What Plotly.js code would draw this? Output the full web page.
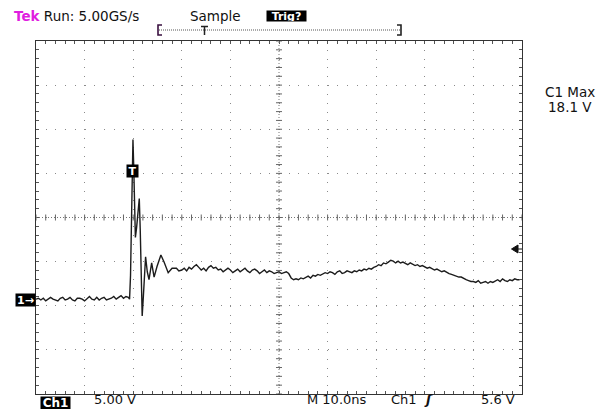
<!DOCTYPE html>
<html><head><meta charset="utf-8">
<script src="https://cdn.plot.ly/plotly-3.0.1.min.js"></script>
<style>body{margin:0;background:#fff}#chart{width:614px;height:409px}</style>
</head><body><div id="chart"></div>
<script>
// ---- data (time in ns, amplitude in volts) ----
const baselineTime = [0,0.5,1,1.5,2,2.5,3,3.5,4,4.5,5,5.5,6,6.5,7,7.5,8,8.5,9,9.5,10,10.5,11,11.5,12,12.5,13,13.5,14,14.5,15,15.5,16,16.5,17,17.5,18,18.5,19];
const baselineVolts = [0.0,0.1,-0.1,0.1,-0.2,0.0,0.2,0.0,-0.1,-0.2,0.1,0.2,-0.1,0.0,0.2,-0.1,-0.2,0.1,0.1,0.0,-0.2,0.1,0.3,0.0,-0.1,0.2,-0.1,0.1,0.2,-0.1,0.0,0.1,0.3,0.0,0.2,0.4,0.1,0.3,0.2];
const pulseTime = [19.25,19.45,19.6,19.8,19.95,20.1,20.3,20.45,20.7,21.0,21.25,21.45,21.65,21.85,22.1,22.35,22.55,22.9,23.25,23.8,24.3,24.9,25.7,26.35,27.2,28.0,28.9,29.4];
const pulseVolts = [0.0,2.7,9.0,14.6,18.1,15.2,10.1,7.0,8.1,10.3,11.4,7.8,1.6,-1.9,0.4,3.8,4.8,3.1,2.2,4.1,2.5,3.7,5.0,4.2,3.0,3.5,3.5,3.2];
const tailTime = [30,30.5,31,31.5,32,32.5,33,33.5,34,34.5,35,35.5,36,36.5,37,37.5,38,38.5,39,39.5,
 40,40.5,41,41.5,42,42.5,43,43.5,44,44.5,45,45.5,46,46.5,47,47.5,48,48.5,49,49.5,
 50,50.5,51,51.5,52,52.5,53,53.5,54,54.5,55,55.5,56,56.5,57,57.5,58,58.5,59,59.5,
 60,60.5,61,61.5,62,62.5,63,63.5,64,64.5,65,65.5,66,66.5,67,67.5,68,68.5,69,69.5,
 70,70.5,71,71.5,72,72.5,73,73.5,74,74.5,75,75.5,76,76.5,77,77.5,78,78.5,79,79.5,
 80,80.5,81,81.5,82,82.5,83,83.5,84,84.5,85,85.5,86,86.5,87,87.5,88,88.5,89,89.5,
 90,90.5,91,91.5,92,92.5,93,93.5,94,94.5,95,95.5,96,96.5,97,97.5,98,98.5,99,99.5];
const tailVolts = [3.3,3.5,3.2,3.6,3.4,3.7,3.9,3.6,3.3,3.5,
 3.2,3.6,3.8,3.5,3.6,3.3,3.4,3.1,3.3,3.5,
 3.3,3.0,3.2,3.4,3.1,3.3,3.5,3.2,3.0,3.3,
 3.4,3.2,2.9,3.1,3.3,3.0,3.2,3.1,2.9,3.0,
 3.1,2.9,3.0,3.1,2.9,2.4,2.2,2.3,2.2,2.4,
 2.3,2.5,2.6,2.4,2.7,2.6,2.8,2.7,2.9,3.0,
 2.9,3.1,3.0,2.8,3.1,3.2,2.9,3.0,3.2,3.1,
 3.0,3.2,3.1,3.3,3.2,3.4,3.3,3.5,3.4,3.6,
 3.7,3.9,3.8,4.1,4.0,4.2,4.4,4.3,4.1,4.3,
 4.1,4.2,4.0,3.9,4.1,3.9,3.8,3.9,3.7,3.8,
 3.6,3.5,3.6,3.4,3.3,3.4,3.2,3.1,3.2,3.0,
 2.9,2.8,2.7,2.6,2.5,2.5,2.3,2.2,2.1,2.0,
 2.0,1.9,2.1,1.8,1.9,2.0,1.8,2.0,1.9,2.1,
 2.2,2.0,2.3,2.1,2.0,2.2,2.1,2.3,2.2,2.2];

// scope settings
const voltsPerDiv = 5;      // 5.00 V/div
const nsPerDiv = 10;        // M 10.0ns
const centerVolts = 9.25;   // channel offset (ground marker 1.85 div below centre)

// ---- layout helpers (pixel geometry of the graticule) ----
const L = 36, R = 522, T = 41, B = 394;
const px = x => (x - L) / (R - L);
const py = y => (B - y) / (B - T);
const FONT = 'DejaVu Sans, sans-serif';
const yMin = centerVolts - 4 * voltsPerDiv, yMax = centerVolts + 4 * voltsPerDiv;

const trace = {
  x: baselineTime.concat(pulseTime, tailTime),
  y: baselineVolts.concat(pulseVolts, tailVolts),
  type: 'scatter', mode: 'lines',
  line: {color: '#1c1c1c', width: 1.4},
  hoverinfo: 'skip'
};

const shapes = [];
// centre lines
shapes.push({type:'line', xref:'x', yref:'y', x0:0, x1:10*nsPerDiv, y0:centerVolts, y1:centerVolts,
  line:{color:'#777', width:1, dash:'1px,2px'}});
shapes.push({type:'line', xref:'x', yref:'y', x0:5*nsPerDiv, x1:5*nsPerDiv, y0:yMin, y1:yMax,
  line:{color:'#777', width:1, dash:'1px,2px'}});
// centre-line minor ticks
const hx = 0.62, hy = 0.34;
for (let i = 0; i <= 50; i++) {
  const xv = i * nsPerDiv / 5;
  shapes.push({type:'line', xref:'x', yref:'y', x0:xv, x1:xv, y0:centerVolts-hy, y1:centerVolts+hy,
    line:{color:'#666', width:1}});
}
for (let j = 0; j <= 40; j++) {
  const yv = yMin + j * voltsPerDiv / 5;
  shapes.push({type:'line', xref:'x', yref:'y', x0:5*nsPerDiv-hx, x1:5*nsPerDiv+hx, y0:yv, y1:yv,
    line:{color:'#666', width:1}});
}
// record-view bracket at top
const path = pts => pts.map((p,i)=>(i?'L':'M')+px(p[0])+','+py(p[1])).join(' ');
shapes.push({type:'path', xref:'paper', yref:'paper', path:path([[162,25],[158,25],[158,35],[162,35]]),
  line:{color:'#3a1040', width:1.6}});
shapes.push({type:'path', xref:'paper', yref:'paper', path:path([[397,25],[401,25],[401,35],[397,35]]),
  line:{color:'#222', width:1.6}});
shapes.push({type:'line', xref:'paper', yref:'paper', x0:px(159), x1:px(400), y0:py(30), y1:py(30),
  line:{color:'#555', width:1, dash:'1px,1px'}});
shapes.push({type:'path', xref:'paper', yref:'paper', path:path([[201,26.5],[208,26.5]])+' '+path([[204.5,26.5],[204.5,35]]),
  line:{color:'#222', width:1.5}});
// trigger level arrow
shapes.push({type:'path', xref:'paper', yref:'paper',
  path: path([[511.5,249],[518,245],[518,253]]) + ' Z', fillcolor:'#111', line:{color:'#111', width:1}});
shapes.push({type:'line', xref:'paper', yref:'paper', x0:px(518), x1:px(522), y0:py(249), y1:py(249),
  line:{color:'#111', width:1}});

const FS = 13.5;
const ann = (text, x, y, opts) => Object.assign({text, x:px(x), y:py(y), xref:'paper', yref:'paper',
  showarrow:false, xanchor:'left', yanchor:'middle', font:{family:FONT, size:FS, color:'#111'}}, opts||{});
const boxed = (text, cx, cy, w, h, size) => ann(text, cx, cy, {xanchor:'center', width:w, height:h,
  bgcolor:'#000', borderpad:0, font:{family:FONT, size:size, color:'#fff'}});
const bottom = {yanchor:'bottom', font:{family:FONT, size:13, color:'#111'}};

const annotations = [
  ann('<b><span style="color:#e01ee0">Tek</span></b> Run: 5.00GS/s', 12, 16),
  ann('Sample', 188, 16),
  boxed('<b>Trig?</b>', 286.5, 16, 39, 10, 11),
  ann('C1 Max', 570, 92, {xanchor:'center'}),
  ann('18.1 V', 570, 107, {xanchor:'center'}),
  boxed('<b>1→</b>', 25.5, 300, 19, 12, 11),
  boxed('<b>T</b>', 132, 171, 11, 12, 11),
  boxed('<b>Ch1</b>', 55, 403, 29, 12, 12),
  ann('5.00 V', 92, 409, bottom),
  ann('M 10.0ns', 305, 409, bottom),
  ann('Ch1', 389, 409, bottom),
  ann('<i><b>ʃ</b></i>', 428, 409, Object.assign({xanchor:'center'}, bottom)),
  ann('5.6 V', 517, 409, Object.assign({}, bottom, {xanchor:'right'}))
];

const layout = {
  width: 614, height: 409,
  margin: {l: L, r: 614 - R, t: T, b: 409 - B, pad: 0},
  paper_bgcolor: '#fff', plot_bgcolor: '#fff',
  showlegend: false,
  xaxis: {range: [0, 10*nsPerDiv], tick0: 0, dtick: nsPerDiv, showticklabels: false,
    showgrid: true, gridcolor: '#8a8a8a', gridwidth: 1, griddash: '1px,7.825px',
    zeroline: false, showline: true, linecolor: '#333', linewidth: 1.2, mirror: 'allticks',
    ticks: 'inside', ticklen: 3, tickcolor: '#555', tickwidth: 1,
    minor: {tick0: 0, dtick: nsPerDiv/5, ticks: 'inside', ticklen: 3, tickcolor: '#555', tickwidth: 1, showgrid: false},
    fixedrange: true},
  yaxis: {range: [yMin, yMax], tick0: centerVolts, dtick: voltsPerDiv, showticklabels: false,
    showgrid: true, gridcolor: '#8a8a8a', gridwidth: 1, griddash: '1px,8.72px',
    zeroline: false, showline: true, linecolor: '#333', linewidth: 1.2, mirror: 'allticks',
    ticks: 'inside', ticklen: 3, tickcolor: '#555', tickwidth: 1,
    minor: {tick0: centerVolts, dtick: voltsPerDiv/5, ticks: 'inside', ticklen: 3, tickcolor: '#555', tickwidth: 1, showgrid: false},
    fixedrange: true},
  shapes, annotations
};

Plotly.newPlot('chart', [trace], layout, {staticPlot: true, displayModeBar: false});
</script></body></html>
